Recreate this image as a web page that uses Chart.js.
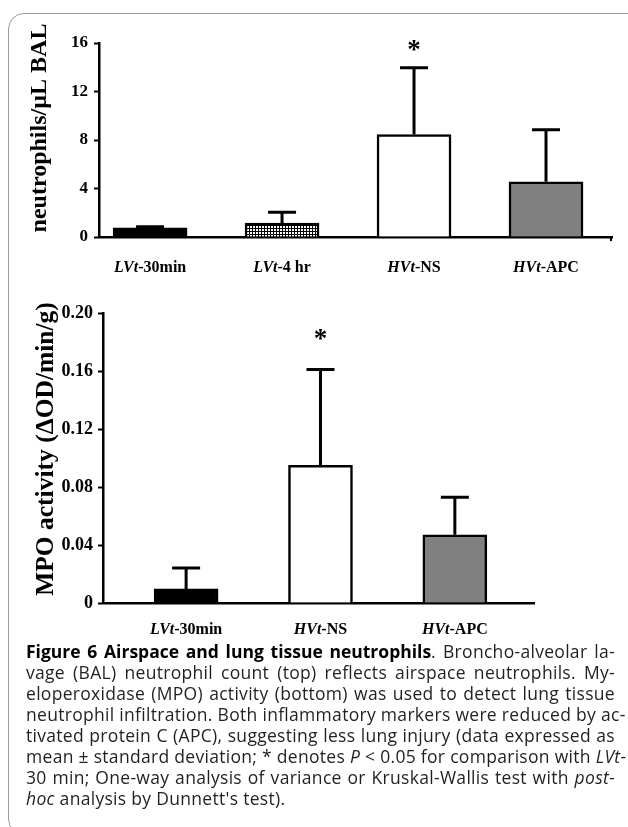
<!DOCTYPE html>
<html>
<head>
<meta charset="utf-8">
<script src="https://cdn.jsdelivr.net/npm/chart.js@4.4.1/dist/chart.umd.min.js"></script>
<style>
  html, body { margin: 0; padding: 0; background: #fff; }
  body { width: 628px; height: 827px; position: relative; overflow: hidden; }
  .frame { position: absolute; left: 8px; top: 13px; width: 680px; height: 822px;
           border: 1.5px solid #9b9b9b; border-radius: 16px; box-sizing: border-box; }
  canvas { position: absolute; left: 0; }
  #topChart { top: 0; }
  #bottomChart { top: 280px; }
  .caption { position: absolute; left: 26px; top: 641px; width: 589px;
             font-family: 'Open Sans', sans-serif; font-size: 17.5px; letter-spacing: 0.3px;
             line-height: 21px; color: #231f20; }
  .caption div { text-align: justify; text-align-last: justify; white-space: nowrap; }
  .caption div.last { text-align-last: left; }
  .caption b { color: #000; letter-spacing: 0; }
</style>
</head>
<body>
<div class="frame"></div>
<canvas id="topChart" width="628" height="280"></canvas>
<canvas id="bottomChart" width="628" height="360"></canvas>
<div class="caption">
  <div><b>Figure 6 Airspace and lung tissue neutrophils</b>. Broncho-alveolar la-</div>
  <div>vage (BAL) neutrophil count (top) reflects airspace neutrophils. My-</div>
  <div>eloperoxidase (MPO) activity (bottom) was used to detect lung tissue</div>
  <div>neutrophil infiltration. Both inflammatory markers were reduced by ac-</div>
  <div>tivated protein C (APC), suggesting less lung injury (data expressed as</div>
  <div>mean ± standard deviation; * denotes <i>P</i> &lt; 0.05 for comparison with <i>LVt</i>-</div>
  <div>30 min; One-way analysis of variance or Kruskal-Wallis test with <i>post</i>-</div>
  <div class="last"><i>hoc</i> analysis by Dunnett's test).</div>
</div>
<script>
// BAL neutrophils (top)
const balGroups = ['LVt-30min', 'LVt-4 hr', 'HVt-NS', 'HVt-APC'];
const balMean = [0.75, 1.15, 8.45, 4.55];
const balSD = [0.1, 0.9, 5.5, 4.3];
const balSig = [false, false, true, false];
const balTicks = [0, 4, 8, 12, 16];

// MPO activity (bottom)
const mpoGroups = ['LVt-30min', 'HVt-NS', 'HVt-APC'];
const mpoMean = [0.0097, 0.095, 0.047];
const mpoSD = [0.0144, 0.066, 0.026];
const mpoSig = [false, true, false];
const mpoTicks = [0, 0.04, 0.08, 0.12, 0.16, 0.20];

const SERIF = '"Liberation Serif", "Times New Roman", serif';

// cross-hatch fill for LVt-4 hr
function makeHatch() {
  const c = document.createElement('canvas');
  c.width = 3; c.height = 3;
  const g = c.getContext('2d');
  g.fillStyle = '#fff'; g.fillRect(0, 0, 3, 3);
  g.fillStyle = '#000'; g.fillRect(0, 0, 3, 1); g.fillRect(0, 0, 1, 3);
  return g.createPattern(c, 'repeat');
}
const hatch = makeHatch();

// error bars, asterisks, axis title and mixed italic category labels
const barExtras = {
  id: 'barExtras',
  afterDatasetsDraw(chart, args, opts) {
    const ctx = chart.ctx;
    const x = chart.scales.x, y = chart.scales.y;
    ctx.save();
    ctx.strokeStyle = '#000';
    ctx.fillStyle = '#000';
    ctx.lineWidth = 3;
    opts.means.forEach((m, i) => {
      const cx = x.getPixelForValue(i);
      const y0 = y.getPixelForValue(m);
      const y1 = y.getPixelForValue(m + opts.sds[i]);
      ctx.beginPath();
      ctx.moveTo(cx, y0);
      ctx.lineTo(cx, y1);
      ctx.moveTo(cx - 14, y1);
      ctx.lineTo(cx + 14, y1);
      ctx.stroke();
      if (opts.sig[i]) {
        ctx.font = 'bold 27px ' + SERIF;
        ctx.textAlign = 'center';
        ctx.textBaseline = 'alphabetic';
        ctx.fillText('*', cx, y1 - opts.starGap + 12);
      }
    });

    // small end tick on the x axis (top panel only)
    if (opts.endTick) {
      ctx.lineWidth = 2;
      ctx.beginPath();
      ctx.moveTo(chart.chartArea.right - 1, chart.chartArea.bottom);
      ctx.lineTo(chart.chartArea.right - 1, chart.chartArea.bottom + 4);
      ctx.stroke();
    }

    // category labels: italic group prefix, upright suffix
    const ly = chart.chartArea.bottom + opts.labelGap;
    ctx.textBaseline = 'middle';
    ctx.textAlign = 'left';
    opts.labels.forEach((lab, i) => {
      const cx = x.getPixelForValue(i);
      const k = lab.indexOf('-');
      const head = lab.slice(0, k), tail = lab.slice(k);
      ctx.font = 'italic bold 16px ' + SERIF;
      const w1 = ctx.measureText(head).width;
      ctx.font = 'bold 16px ' + SERIF;
      const w2 = ctx.measureText(tail).width;
      const sx = cx - (w1 + w2) / 2;
      ctx.font = 'italic bold 16px ' + SERIF;
      ctx.fillText(head, sx, ly);
      ctx.font = 'bold 16px ' + SERIF;
      ctx.fillText(tail, sx + w1, ly);
    });

    // rotated y-axis title
    ctx.translate(opts.titleX, opts.titleY);
    ctx.rotate(-Math.PI / 2);
    ctx.textAlign = 'center';
    ctx.textBaseline = 'middle';
    ctx.font = 'bold ' + opts.titleSize + 'px ' + SERIF;
    ctx.fillText(opts.title, 0, 0);
    ctx.restore();
  }
};

function makeChart(id, o) {
  return new Chart(document.getElementById(id), {
    type: 'bar',
    data: {
      datasets: [{
        data: o.means.map((v, i) => ({ x: i, y: v })),
        backgroundColor: o.fills,
        borderColor: '#000',
        borderWidth: 2.5,
        barThickness: o.barWidth
      }]
    },
    options: {
      responsive: false,
      animation: false,
      layout: { padding: o.padding },
      plugins: {
        legend: { display: false },
        tooltip: { enabled: false },
        barExtras: {
          means: o.means, sds: o.sds, sig: o.sig, labels: o.labels,
          starGap: o.starGap, labelGap: o.labelGap, endTick: o.endTick,
          title: o.title, titleSize: o.titleSize, titleX: o.titleX, titleY: o.titleY
        }
      },
      scales: {
        x: {
          type: 'linear',
          offset: false,
          bounds: 'data',
          min: o.xMin,
          max: o.xMax,
          grid: { display: false, offset: false },
          ticks: { display: false },
          border: { color: '#000', width: 2.5 },
          afterFit: s => { s.height = o.xHeight; }
        },
        y: {
          min: 0,
          max: o.ticks[o.ticks.length - 1],
          afterBuildTicks: s => { s.ticks = o.ticks.map(v => ({ value: v })); },
          ticks: {
            color: '#000',
            padding: o.tickPad,
            font: { family: SERIF, weight: 'bold', size: o.tickSize },
            callback: o.fmt
          },
          grid: { drawOnChartArea: false, tickLength: 5, tickColor: '#000', tickWidth: 2 },
          border: { color: '#000', width: 2.5 },
          afterFit: s => { s.width = o.yWidth; }
        }
      }
    },
    plugins: [barExtras]
  });
}

makeChart('topChart', {
  means: balMean, sds: balSD, sig: balSig, labels: balGroups, ticks: balTicks,
  fills: ['#000', hatch, '#fff', '#808080'],
  barWidth: 74,
  padding: { left: 0, right: 16, top: 43, bottom: 0 },
  xMin: -0.387, xMax: 3.5, xHeight: 43, yWidth: 99,
  tickSize: 17, tickPad: 6, endTick: true,
  title: 'neutrophils/\u00b5L BAL', titleSize: 24, titleX: 40, titleY: 128,
  starGap: 22, labelGap: 31,
  fmt: v => String(v)
});

makeChart('bottomChart', {
  means: mpoMean, sds: mpoSD, sig: mpoSig, labels: mpoGroups, ticks: mpoTicks,
  fills: ['#000', '#fff', '#808080'],
  barWidth: 64,
  padding: { left: 0, right: 94, top: 33, bottom: 0 },
  xMin: -0.6185, xMax: 2.589, xHeight: 37, yWidth: 103,
  tickSize: 18, tickPad: 5, endTick: false,
  title: 'MPO activity (\u0394OD/min/g)', titleSize: 25.5, titleX: 46, titleY: 169,
  starGap: 35, labelGap: 27,
  fmt: v => (v === 0 ? '0' : v.toFixed(2))
});
</script>
</body>
</html>
